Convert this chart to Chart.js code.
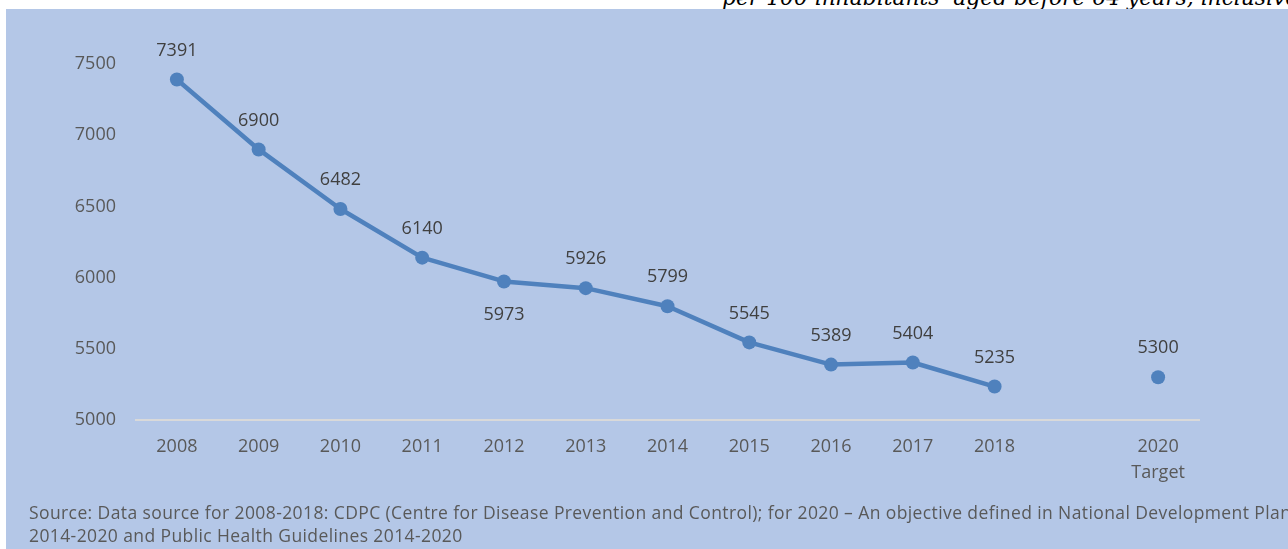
<!DOCTYPE html>
<html>
<head>
<meta charset="utf-8">
<script src="https://cdn.jsdelivr.net/npm/chart.js@4.4.1/dist/chart.umd.min.js"></script>
<style>
  html, body { margin: 0; padding: 0; background: #fff; width: 1288px; height: 549px; overflow: hidden; }
  .head {
    position: absolute; left: 722px; top: -12px; white-space: nowrap;
    font: italic 21.8px/20px 'DejaVu Serif', serif; color: #000;
  }
  .panel {
    position: absolute; left: 6px; top: 9px; width: 1282px; height: 540px;
    background: #b4c7e7; overflow: hidden;
  }
  .source {
    position: absolute; left: 23px; top: 492px; white-space: nowrap;
    font: 17.5px/23px 'Open Sans', sans-serif; letter-spacing: 0.4px; color: #595959;
  }
  canvas { position: absolute; left: 0; top: 0; }
</style>
</head>
<body>
<div class="head">per 100 inhabitants&nbsp; aged before 64 years, inclusive</div>
<div class="panel">
  <canvas id="lineChart" width="1282" height="540"></canvas>
  <div class="source">Source: Data source for 2008-2018: CDPC (Centre for Disease Prevention and Control); for 2020 – An objective defined in National Development Plan<br>2014-2020 and Public Health Guidelines 2014-2020</div>
</div>
<script>
// data
const years = ['2008', '2009', '2010', '2011', '2012', '2013', '2014', '2015', '2016', '2017', '2018'];
const actual = [7391, 6900, 6482, 6140, 5973, 5926, 5799, 5545, 5389, 5404, 5235];
const gapLabel = '';            // 2019 has no value and no label
const targetLabel = ['2020', 'Target'];
const targetValue = 5300;
const yTicks = [5000, 5500, 6000, 6500, 7000, 7500];

const labels = [...years, gapLabel, targetLabel];
const values = [...actual, null, targetValue];
const belowLabels = ['2012'];

Chart.defaults.font.family = "'Open Sans', sans-serif";

const valueLabels = {
    id: 'valueLabels',
    afterDatasetsDraw(chart) {
        const ctx = chart.ctx;
        const meta = chart.getDatasetMeta(0);
        ctx.save();
        ctx.font = "18px 'Open Sans', sans-serif";
        ctx.fillStyle = '#404040';
        ctx.textAlign = 'center';
        ctx.textBaseline = 'middle';
        meta.data.forEach((pt, i) => {
            const v = values[i];
            if (v === null) return;
            const below = belowLabels.includes(labels[i]);
            ctx.fillText(String(v), pt.x, below ? pt.y + 33 : pt.y - 29);
        });
        ctx.restore();
    }
};

const ctx = document.getElementById('lineChart').getContext('2d');
const myChart = new Chart(ctx, {
    type: 'line',
    data: {
        labels: labels,
        datasets: [{
            data: values,
            borderColor: '#4f81bd',
            backgroundColor: '#4f81bd',
            borderWidth: 4.5,
            borderJoinStyle: 'round',
            pointRadius: 7,
            pointBorderWidth: 0,
            pointBackgroundColor: '#4f81bd',
            spanGaps: false,
            tension: 0
        }]
    },
    options: {
        responsive: false,
        animation: false,
        devicePixelRatio: 1,
        layout: { padding: { top: 55, right: 89, left: 0, bottom: 0 } },
        plugins: { legend: { display: false }, tooltip: { enabled: false } },
        scales: {
            x: {
                offset: true,
                grid: { display: false, drawTicks: false },
                border: { display: true, color: '#d9d9d9', width: 2 },
                ticks: { color: '#595959', font: { size: 18, lineHeight: '26px' }, padding: 14, maxRotation: 0, autoSkip: false },
                afterFit(scale) { scale.height = 129; }
            },
            y: {
                min: yTicks[0],
                max: yTicks[yTicks.length - 1],
                grid: { display: false, drawTicks: false },
                border: { display: false },
                ticks: {
                    stepSize: 500, color: '#595959', font: { size: 18 }, padding: 20,
                    callback: (v) => String(v)
                },
                afterFit(scale) { scale.width = 130; }
            }
        }
    },
    plugins: [valueLabels]
});
</script>
</body>
</html>
